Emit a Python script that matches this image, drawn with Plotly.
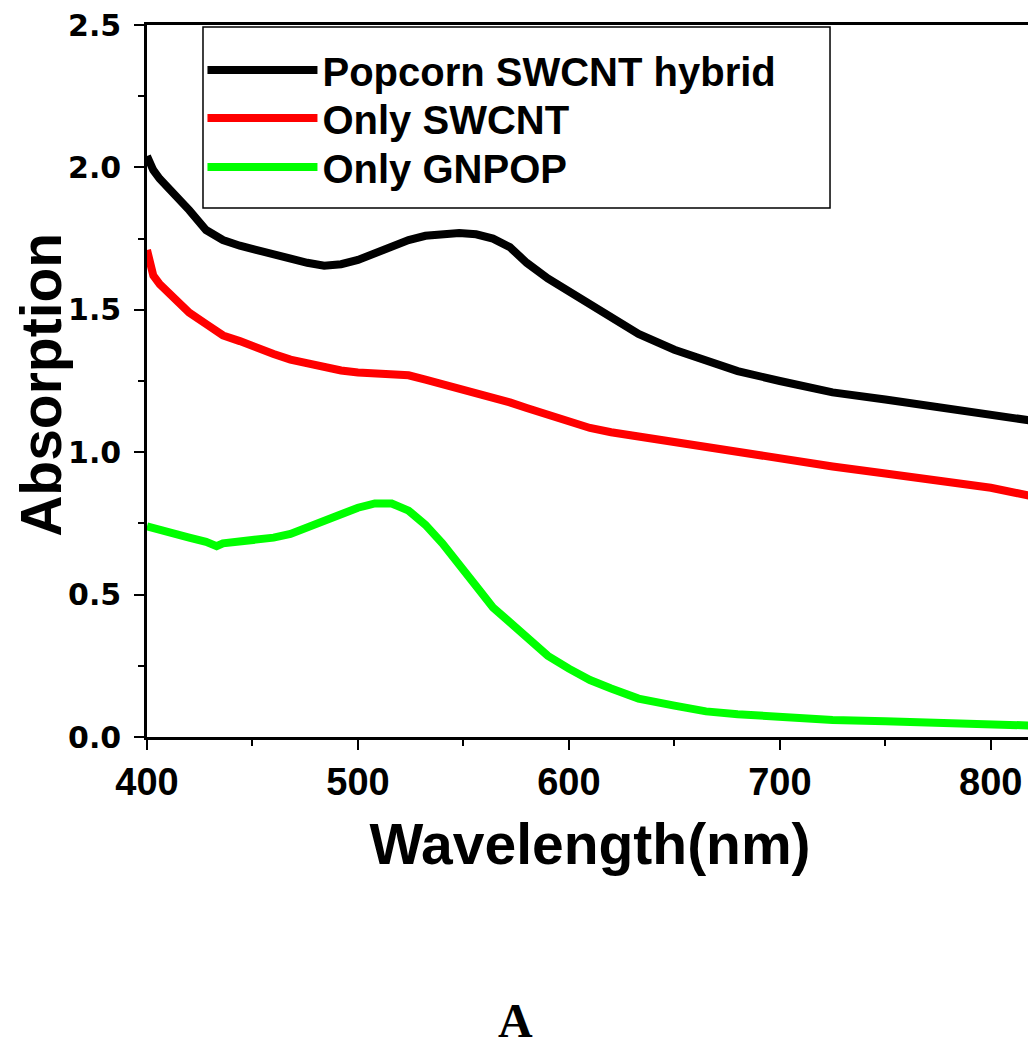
# UV-vis absorption spectra: popcorn SWCNT hybrid vs components
import plotly.graph_objects as go

wavelength = [400, 403, 406, 410, 415, 420, 428, 433, 436, 444, 452, 460, 468, 476, 484, 492,
              500, 508, 516, 524, 532, 540, 548, 556, 564, 572, 580, 590, 600, 610, 620, 633,
              650, 665, 680, 700, 725, 750, 775, 800, 820]

hybrid = [2.04, 1.99, 1.96, 1.93, 1.89, 1.85, 1.78, 1.755, 1.745, 1.725, 1.71, 1.69, 1.675, 1.665, 1.655, 1.66,
          1.675, 1.70, 1.725, 1.745, 1.76, 1.765, 1.77, 1.765, 1.75, 1.72, 1.665, 1.61, 1.565, 1.52, 1.475, 1.415,
          1.36, 1.32, 1.285, 1.25, 1.21, 1.185, 1.16, 1.135, 1.11]

swcnt = [1.71, 1.62, 1.59, 1.56, 1.53, 1.49, 1.45, 1.425, 1.41, 1.39, 1.365, 1.345, 1.325, 1.31, 1.295, 1.287,
         1.28, 1.275, 1.272, 1.27, 1.255, 1.24, 1.225, 1.21, 1.195, 1.175, 1.155, 1.13, 1.105, 1.085, 1.07, 1.055,
         1.035, 1.015, 1.0, 0.98, 0.95, 0.925, 0.90, 0.875, 0.845]

gnpop = [0.74, 0.735, 0.73, 0.72, 0.71, 0.70, 0.685, 0.67, 0.68, 0.685, 0.69, 0.70, 0.713, 0.735, 0.76, 0.785,
         0.805, 0.82, 0.82, 0.795, 0.745, 0.68, 0.61, 0.53, 0.455, 0.40, 0.35, 0.285, 0.24, 0.20, 0.17, 0.135,
         0.11, 0.09, 0.08, 0.07, 0.06, 0.055, 0.05, 0.045, 0.04]

series = [
    ("Popcorn SWCNT hybrid", hybrid, "#000000", "legend"),
    ("Only SWCNT", swcnt, "#FF0000", "legend2"),
    ("Only GNPOP", gnpop, "#00FF00", "legend3"),
]

fig = go.Figure()
for name, vals, col, lg in series:
    fig.add_trace(go.Scatter(x=wavelength, y=vals, mode="lines", name="<b>" + name + "</b>",
                             legend=lg, showlegend=True, line=dict(color=col, width=8)))

axis_common = dict(showline=True, linecolor="black", linewidth=2.5, mirror=True,
                   ticks="outside", ticklen=10, tickwidth=2, tickcolor="black",
                   showgrid=False, zeroline=False, automargin=False, ticklabeloverflow="allow")

fig.update_xaxes(range=[400, 820], dtick=100, tick0=400,
                 tickprefix="<b>", ticksuffix="</b>", ticklabelstandoff=0,
                 tickfont=dict(family="Liberation Sans", size=38, color="black"),
                 minor=dict(ticks="outside", ticklen=6, tickwidth=2, dtick=50, tick0=400, tickcolor="black"),
                 title=dict(text="<b>Wavelength(nm)</b>", standoff=22,
                            font=dict(family="Liberation Sans", size=57, color="black")),
                 **axis_common)
fig.update_yaxes(range=[0, 2.5], dtick=0.5, tickformat=".1f",
                 tickprefix="<b>", ticksuffix="</b>", ticklabelstandoff=7,
                 tickfont=dict(family="DejaVu Sans", size=30, color="black"),
                 minor=dict(ticks="outside", ticklen=6, tickwidth=2, dtick=0.25, tickcolor="black"),
                 **axis_common)

# y title as rotated annotation so it can sit near the left edge
fig.add_annotation(text="<b>Absorption</b>", xref="paper", yref="paper", x=-0.119, y=0.494,
                   xanchor="center", yanchor="middle", textangle=-90, showarrow=False,
                   font=dict(family="Liberation Sans", size=57, color="black"))

# legend frame
fig.add_shape(type="rect", xref="paper", yref="paper",
              x0=0.0632, x1=0.7709, y0=0.7430, y1=0.9972,
              line=dict(color="black", width=1.5), fillcolor="white", layer="below")

fig.add_annotation(text="<b>A</b>", xref="paper", yref="paper", x=0.4158, y=-0.3975,
                   xanchor="center", yanchor="middle", showarrow=False,
                   font=dict(family="Liberation Serif", size=48, color="black"))

legend_style = dict(x=0.0626, xanchor="left", yanchor="middle",
                    bgcolor="rgba(0,0,0,0)", borderwidth=0, itemwidth=110,
                    font=dict(family="Liberation Sans", size=40, color="black"))

fig.update_layout(
    width=1036, height=1050,
    margin=dict(l=139, r=11, t=17, b=321),
    paper_bgcolor="white", plot_bgcolor="white",
    font=dict(family="Liberation Sans", color="black"),
    showlegend=True,
    legend=dict(y=0.9368, **legend_style),
    legend2=dict(y=0.8694, **legend_style),
    legend3=dict(y=0.8006, **legend_style),
)

fig.write_html("out.html")
